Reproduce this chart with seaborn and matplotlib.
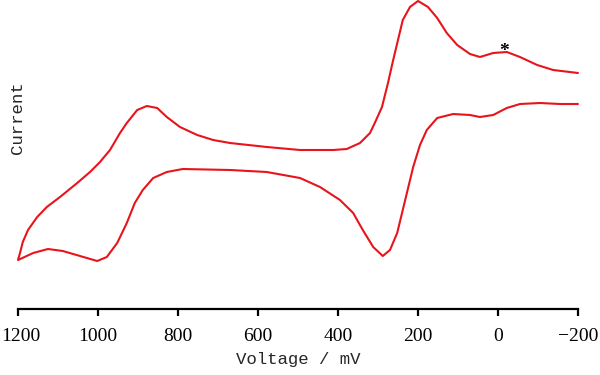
import pandas as pd
import matplotlib.pyplot as plt
import matplotlib.transforms as mtransforms
import seaborn as sns

# -------------------------------
# 1. Data (arbitrary current units)
# -------------------------------
# forward sweep: -200 mV -> 1200 mV (upper branch)
volt_fwd = [-200, -138, -98, -55, -22, 12, 45, 70, 102, 128, 152, 175, 200, 220,
            238, 250, 262, 275, 290, 308, 320, 345, 378, 412, 495, 578, 670, 712,
            752, 795, 828, 852, 878, 902, 928, 945, 970, 995, 1020, 1052, 1095,
            1128, 1152, 1175, 1188, 1195, 1200]
curr_fwd = [22.7, 23.0, 23.5, 24.3, 24.8, 24.7, 24.3, 24.6, 25.5, 26.7, 28.2, 29.3,
            29.9, 29.3, 28.0, 26.0, 24.0, 21.7, 19.3, 17.7, 16.7, 15.7, 15.1, 15.0,
            15.0, 15.3, 15.7, 16.0, 16.5, 17.3, 18.3, 19.2, 19.4, 19.0, 17.7, 16.7,
            15.0, 13.8, 12.8, 11.7, 10.3, 9.3, 8.3, 7.0, 5.8, 4.7, 4.0]

# reverse sweep: 1200 mV -> -200 mV (lower branch)
volt_rev = [1200, 1162, 1125, 1088, 1045, 1002, 978, 952, 928, 908, 888, 862, 828,
            788, 670, 578, 495, 445, 395, 362, 338, 312, 288, 270, 252, 232, 212,
            195, 178, 152, 112, 70, 45, 12, -22, -55, -105, -155, -200]
curr_rev = [4.0, 4.7, 5.1, 4.9, 4.4, 3.9, 4.3, 5.7, 7.7, 9.7, 11.0, 12.2, 12.8,
            13.1, 13.0, 12.8, 12.2, 11.3, 10.0, 8.7, 7.0, 5.3, 4.4, 5.0, 6.7, 10.0,
            13.3, 15.5, 17.0, 18.2, 18.6, 18.5, 18.3, 18.5, 19.2, 19.6, 19.7, 19.6,
            19.6]

x_ticks = [1200, 1000, 800, 600, 400, 200, 0, -200]
tick_labels = ["1200", "1000", "800", "600", "400", "200", "0", "\u2212200"]

# small shoulder marked with an asterisk
star_volt = -15
star_curr = 24.9

df = pd.DataFrame({
    "Voltage": volt_fwd + volt_rev[1:],
    "Current": curr_fwd + curr_rev[1:],
})

# -------------------------------
# 2. Plot
# -------------------------------
sns.set_style("white")
plt.rcParams["font.family"] = ["Liberation Serif", "DejaVu Serif"]
label_font = ["Liberation Mono", "DejaVu Sans Mono"]

fig = plt.figure(figsize=(6, 3.75), dpi=100)
ax = fig.add_axes([0.03, 0.176, 0.9333, 0.824])

sns.lineplot(data=df, x="Voltage", y="Current", sort=False, estimator=None,
             color="#e8141c", linewidth=1.5, ax=ax, clip_on=False)
for line in ax.lines:
    line.set_solid_joinstyle("round")

ax.text(star_volt, star_curr, "*", ha="center", va="center", fontsize=14,
        fontweight="bold", color="black")

ax.set_xlim(1200, -200)
ax.set_ylim(-0.9, 30)
ax.set_xticks(x_ticks)
ax.set_xticklabels(tick_labels)
ax.set_yticks([])

for side in ["left", "right", "top"]:
    ax.spines[side].set_visible(False)
ax.spines["bottom"].set_linewidth(1.6)
ax.spines["bottom"].set_color("black")
ax.tick_params(axis="x", direction="out", length=5, width=1.6, bottom=True,
               labelsize=14, pad=9, colors="black")

# nudge the first label off the left edge, like the reference
first = ax.get_xticklabels()[0]
first.set_transform(first.get_transform() +
                    mtransforms.ScaledTranslation(2.5 / 100, 0, fig.dpi_scale_trans))

ax.set_xlabel("Voltage / mV", fontsize=12.5, family=label_font, labelpad=5)
ax.set_ylabel("Current", fontsize=12.5, family=label_font)
ax.yaxis.label.set(ha="center", va="center", rotation_mode="default")
ax.yaxis.set_label_coords(0.0, 0.62)

plt.savefig("out.png", dpi=100)
